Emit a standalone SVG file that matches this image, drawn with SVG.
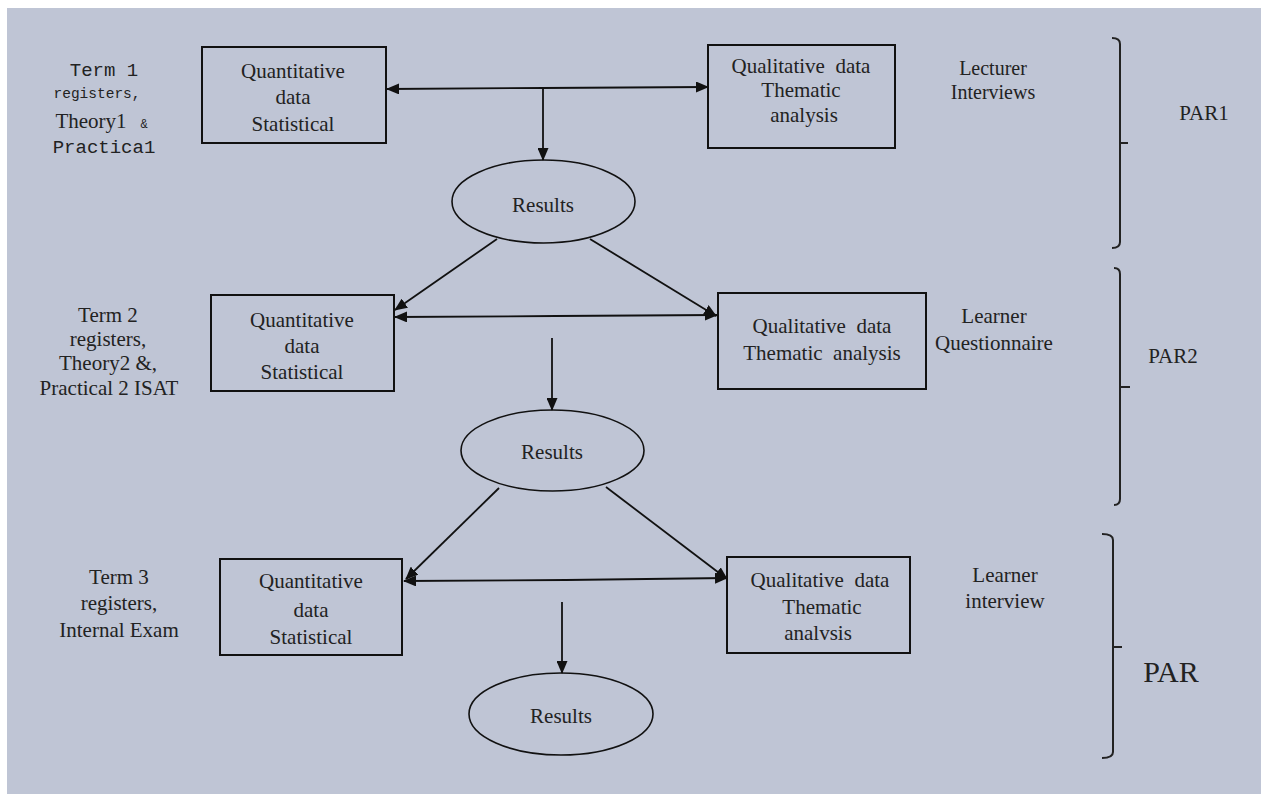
<svg xmlns="http://www.w3.org/2000/svg" width="1261" height="794" viewBox="0 0 1261 794">
  <style>
    .box { fill: none; stroke: #111; stroke-width: 2; }
    .oval { fill: none; stroke: #111; stroke-width: 1.6; }
    .t { font-family: "Liberation Serif", "Times New Roman", serif; font-size: 21px; fill: #222; text-anchor: middle; }
    .pre { white-space: pre; }
    .m { font-family: "Liberation Mono", "Courier New", monospace; fill: #222; text-anchor: middle; }
    .c { stroke: #111; stroke-width: 1.8; fill: none; }
    .br { stroke: #222; stroke-width: 2; fill: none; }
  </style>
  <defs>
    <marker id="ah" markerWidth="13" markerHeight="11" refX="12" refY="5.5" orient="auto" markerUnits="userSpaceOnUse">
      <path d="M0,0 L13,5.5 L0,11 z" fill="#111"/>
    </marker>
  </defs>

  <!-- background panel -->
  <rect x="7" y="8" width="1254" height="786" fill="#BFC5D5"/>

  <!-- connectors -->
  <g id="connectors">
    <!-- stage 1 -->
    <line class="c" x1="543" y1="88" x2="387" y2="89" marker-end="url(#ah)"/>
    <line class="c" x1="543" y1="88" x2="708" y2="87" marker-end="url(#ah)"/>
    <line class="c" x1="543" y1="88" x2="543" y2="160" marker-end="url(#ah)"/>
    <!-- stage 2 -->
    <line class="c" x1="497" y1="239" x2="395" y2="310" marker-end="url(#ah)"/>
    <line class="c" x1="590" y1="239" x2="716" y2="316" marker-end="url(#ah)"/>
    <line class="c" x1="556" y1="316" x2="395" y2="317" marker-end="url(#ah)"/>
    <line class="c" x1="556" y1="316" x2="717" y2="315" marker-end="url(#ah)"/>
    <line class="c" x1="552" y1="338" x2="552" y2="410" marker-end="url(#ah)"/>
    <!-- stage 3 -->
    <line class="c" x1="499" y1="488" x2="406" y2="579" marker-end="url(#ah)"/>
    <line class="c" x1="606" y1="487" x2="727" y2="579" marker-end="url(#ah)"/>
    <line class="c" x1="566" y1="580" x2="404" y2="581" marker-end="url(#ah)"/>
    <line class="c" x1="566" y1="580" x2="727" y2="578" marker-end="url(#ah)"/>
    <line class="c" x1="562" y1="602" x2="562" y2="673" marker-end="url(#ah)"/>
  </g>

  <!-- stage 1 nodes -->
  <g id="term1-label">
    <text class="m" x="104" y="76" font-size="19">Term 1</text>
    <text class="m" x="97" y="98" font-size="14.5">registers,</text>
    <text class="t" x="91" y="128">Theory1</text>
    <text class="m" x="144" y="128" font-size="12">&amp;</text>
    <text class="m" x="104" y="153" font-size="19">Practica1</text>
  </g>
  <g id="quant1">
    <rect class="box" x="202" y="47" width="184" height="96"/>
    <text class="t" x="293" y="78">Quantitative</text>
    <text class="t" x="293" y="104">data</text>
    <text class="t" x="293" y="131">Statistical</text>
  </g>
  <g id="qual1">
    <rect class="box" x="708" y="45" width="187" height="103"/>
    <text class="t pre" x="801" y="73">Qualitative  data</text>
    <text class="t" x="801" y="97">Thematic</text>
    <text class="t" x="804" y="122">analysis</text>
  </g>
  <g id="results1">
    <ellipse class="oval" cx="543.5" cy="201.5" rx="91.5" ry="41.5"/>
    <text class="t" x="543" y="212">Results</text>
  </g>
  <g id="source1">
    <text class="t" x="993" y="75" style="font-size:20px">Lecturer</text>
    <text class="t" x="993" y="99" style="font-size:20px">Interviews</text>
  </g>
  <g id="par1">
    <path class="br" d="M1112,38 Q1120,38 1120,44 V242 Q1120,248 1112,248 M1120,143 H1128"/>
    <text class="t" x="1204" y="120">PAR1</text>
  </g>

  <!-- stage 2 nodes -->
  <g id="term2-label">
    <text class="t" x="108" y="322">Term 2</text>
    <text class="t" x="108" y="346">registers,</text>
    <text class="t" x="108" y="370">Theory2 &amp;,</text>
    <text class="t" x="109" y="395">Practical 2 ISAT</text>
  </g>
  <g id="quant2">
    <rect class="box" x="211" y="295" width="183" height="96"/>
    <text class="t" x="302" y="327">Quantitative</text>
    <text class="t" x="302" y="353">data</text>
    <text class="t" x="302" y="379">Statistical</text>
  </g>
  <g id="qual2">
    <rect class="box" x="718" y="293" width="208" height="96"/>
    <text class="t pre" x="822" y="333">Qualitative  data</text>
    <text class="t pre" x="822" y="360">Thematic  analysis</text>
  </g>
  <g id="results2">
    <ellipse class="oval" cx="552.5" cy="450.5" rx="91.5" ry="40.5"/>
    <text class="t" x="552" y="459">Results</text>
  </g>
  <g id="source2">
    <text class="t" x="994" y="323">Learner</text>
    <text class="t" x="994" y="350">Questionnaire</text>
  </g>
  <g id="par2">
    <path class="br" d="M1114,268 Q1120,268 1120,274 V499 Q1120,505 1114,505 M1120,387 H1130"/>
    <text class="t" x="1173" y="363">PAR2</text>
  </g>

  <!-- stage 3 nodes -->
  <g id="term3-label">
    <text class="t" x="119" y="584">Term 3</text>
    <text class="t" x="119" y="610">registers,</text>
    <text class="t" x="119" y="637">Internal Exam</text>
  </g>
  <g id="quant3">
    <rect class="box" x="220" y="559" width="182" height="96"/>
    <text class="t" x="311" y="588">Quantitative</text>
    <text class="t" x="311" y="617">data</text>
    <text class="t" x="311" y="644">Statistical</text>
  </g>
  <g id="qual3">
    <rect class="box" x="727" y="557" width="183" height="96"/>
    <text class="t pre" x="820" y="587">Qualitative  data</text>
    <text class="t" x="822" y="614">Thematic</text>
    <text class="t" x="818" y="640">analvsis</text>
  </g>
  <g id="results3">
    <ellipse class="oval" cx="561" cy="714" rx="92" ry="41"/>
    <text class="t" x="561" y="723">Results</text>
  </g>
  <g id="source3">
    <text class="t" x="1005" y="582">Learner</text>
    <text class="t" x="1005" y="608">interview</text>
  </g>
  <g id="par3">
    <path class="br" d="M1102,534 Q1113,534 1113,540 V752 Q1113,758 1102,758 M1113,647 H1122"/>
    <text class="t" x="1171" y="682" style="font-size:30px">PAR</text>
  </g>
</svg>
